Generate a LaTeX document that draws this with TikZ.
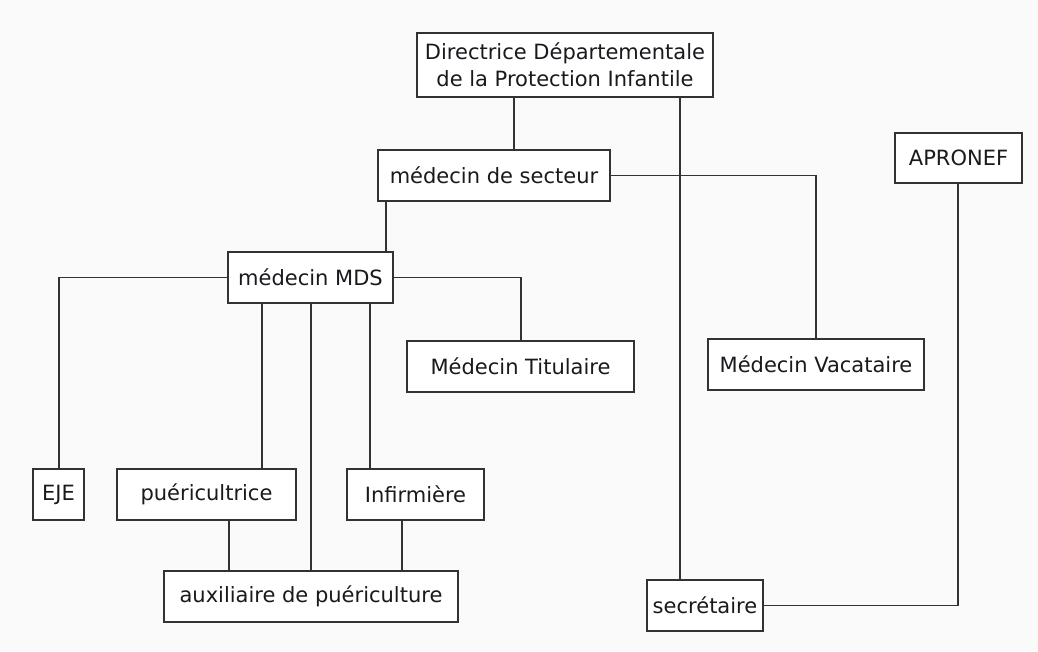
\documentclass[tikz,border=0pt]{standalone}
\usepackage{fontspec}
\setmainfont{DejaVu Sans}
\definecolor{bgc}{RGB}{250,250,250}
\definecolor{linec}{RGB}{50,50,50}
\definecolor{txtc}{RGB}{25,25,30}
\begin{document}
\begin{tikzpicture}[x=1pt,y=-1pt,
  box/.style={draw=linec, line width=1.6pt, fill=white, rectangle, inner sep=0pt,
    minimum height=51pt, text=txtc, font=\fontsize{21}{27}\selectfont, align=center},
  link/.style={draw=linec, line width=1.6pt}]
\fill[bgc] (0,0) rectangle (1038,651);
\useasboundingbox (0,0) rectangle (1038,651);
\node[box, minimum width=296pt, minimum height=64pt] (dir) at (565,65) {Directrice Départementale\\de la Protection Infantile};
\node[box, minimum width=232pt] (secteur) at (494,175.5) {médecin de secteur};
\node[box, minimum width=127pt, minimum height=50pt] (apronef) at (958.5,158) {APRONEF};
\node[box, minimum width=165pt] (mds) at (310.5,277.5) {médecin MDS};
\node[box, minimum width=227pt] (tit) at (520.5,366.5) {Médecin Titulaire};
\node[box, minimum width=216pt] (vac) at (816,364.5) {Médecin Vacataire};
\node[box, minimum width=51pt] (eje) at (58.5,494.5) {EJE};
\node[box, minimum width=179pt] (pue) at (206.5,494.5) {puéricultrice};
\node[box, minimum width=137pt] (inf) at (415.5,494.5) {Infirmière};
\node[box, minimum width=294pt] (aux) at (311,596.5) {auxiliaire de puériculture};
\node[box, minimum width=116pt] (sec) at (705,605.5) {secrétaire};
% connectors
\draw[link] (514,0 |- dir.south) -- (514,0 |- secteur.north);
\draw[link] (680,0 |- dir.south) -- (680,0 |- sec.north);
\draw[link] (386,0 |- secteur.south) -- (386,0 |- mds.north);
\draw[link] (secteur.east) -- (816,0 |- secteur.east) -- (vac.north);
\draw[link] (958,0 |- apronef.south) -- (958,0 |- sec.east) -- (sec.east);
\draw[link] (mds.west) -- (59,0 |- mds.west) -- (59,0 |- eje.north);
\draw[link] (mds.east) -- (521,0 |- mds.east) -- (521,0 |- tit.north);
\draw[link] (262,0 |- mds.south) -- (262,0 |- pue.north);
\draw[link] (311,0 |- mds.south) -- (311,0 |- aux.north);
\draw[link] (370,0 |- mds.south) -- (370,0 |- inf.north);
\draw[link] (229,0 |- pue.south) -- (229,0 |- aux.north);
\draw[link] (402,0 |- inf.south) -- (402,0 |- aux.north);
\end{tikzpicture}
\end{document}
